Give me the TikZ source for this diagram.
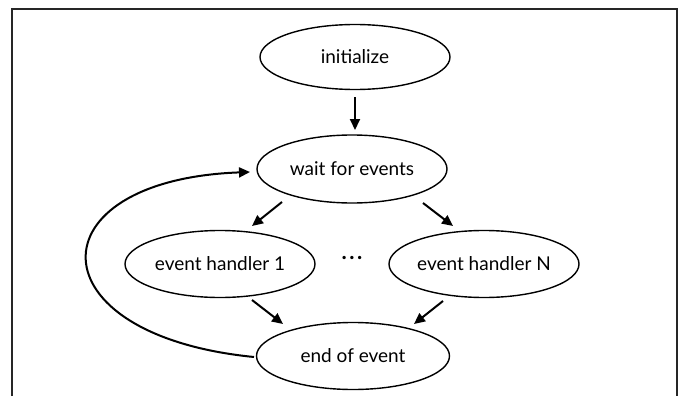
\documentclass[tikz,border=0pt]{standalone}
\usepackage{fontspec}
\setmainfont{Lato}
\usetikzlibrary{shapes.geometric,arrows.meta}
\begin{document}
\begin{tikzpicture}[x=1pt,y=-1pt,
  oval/.style={ellipse,draw=black,line width=1.4pt,inner sep=0pt,
    minimum width=190pt,minimum height=67pt,font=\fontsize{19}{22}\selectfont},
  arr/.style={line width=2pt,-{Triangle[length=11pt,width=10pt]}},
  frameline/.style={line width=1.3pt,draw=black!85}]
\useasboundingbox (0,0) rectangle (682,396);
\draw[frameline] (12,396) -- (12,9) -- (677,9) -- (677,396);
\node[oval,minimum height=65pt] (init) at (355,57) {initialize};
\node[oval,minimum height=68pt] (wait) at (352,169) {wait for events};
\node[oval] (eh1) at (220,264) {event handler 1};
\node[oval] (ehN) at (484,264) {event handler N};
\node[oval,minimum width=193pt] (eoe) at (353,356) {end of event};
\node[font=\fontsize{22}{22}\selectfont\bfseries] (dots) at (352,258) {.\hspace{2.5pt}.\hspace{2.5pt}.};
\draw[arr] ([shift={(0,40)}]init.center) -- ([shift={(3,-39)}]wait.center);
\draw[arr] ([shift={(-70,33)}]wait.center) -- ([shift={(32,-38)}]eh1.center);
\draw[arr] ([shift={(71,34)}]wait.center) -- ([shift={(-31,-38)}]ehN.center);
\draw[arr] ([shift={(32,36)}]eh1.center) -- ([shift={(-70,-32)}]eoe.center);
\draw[arr] ([shift={(-41,37)}]ehN.center) -- ([shift={(61,-32)}]eoe.center);
\draw[arr] ([shift={(-99,1)}]eoe.center) .. controls (32,335) and (32,180) .. ([shift={(-102,3)}]wait.center);
\end{tikzpicture}
\end{document}
